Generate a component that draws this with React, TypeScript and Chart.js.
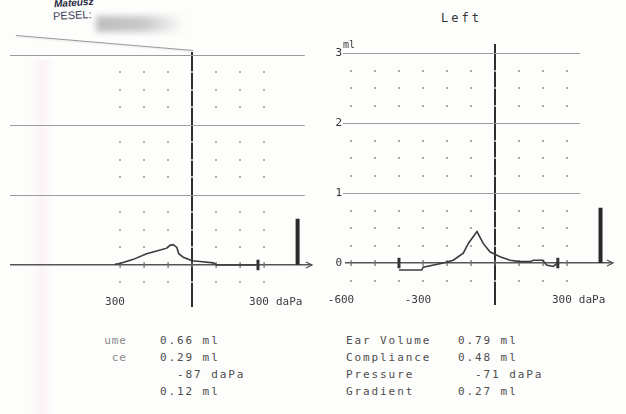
import React, { useEffect, useRef } from "react";
import { Chart, registerables } from "chart.js";

Chart.register(...registerables);

// ---------- data ----------
// Right ear (left panel, partly cut off in the scan)
const RIGHT_EAR_PRESSURE = [-321, -300, -244, -189, -147, -105, -92, -78, -63, -55, -36, 0, 33, 89, 103, 255, 275];
const RIGHT_EAR_COMPLIANCE = [0.01, 0.02, 0.08, 0.16, 0.2, 0.24, 0.28, 0.29, 0.25, 0.16, 0.11, 0.06, 0.05, 0.03, 0.0, 0.0, 0.0];
const RIGHT_EAR_VOLUME = 0.66;
const RIGHT_EAR_RANGE_MARKS = [275];

// Left ear (right panel)
const LEFT_EAR_PRESSURE = [-400, -305, -299, -215, -174, -132, -111, -75, -49, -21, 21, 63, 104, 146, 160, 200, 215, 242, 262];
const LEFT_EAR_COMPLIANCE = [-0.1, -0.1, -0.06, 0.0, 0.04, 0.14, 0.28, 0.45, 0.28, 0.16, 0.09, 0.04, 0.02, 0.02, 0.04, 0.04, -0.03, -0.05, 0.0];
const LEFT_EAR_VOLUME = 0.79;
const LEFT_EAR_RANGE_MARKS = [-400, 262];

const VOLUME_BAR_PRESSURE = 440;
const Y_TICKS = [0, 1, 2, 3];
const RIGHT_PANEL_X_LABELS = [-600, -300, 300];
const LEFT_PANEL_X_LABELS = [-300, 300];
const X_UNIT = "daPa";

const PARAM_LABELS = ["Ear Volume", "Compliance", "Pressure", "Gradient"];
const LEFT_EAR_PARAMS = ["0.79 ml", "0.48 ml", "  -71 daPa", "0.27 ml"];
const RIGHT_EAR_PARAMS = ["0.66 ml", "0.29 ml", "  -87 daPa", "0.12 ml"];
const RIGHT_EAR_LABEL_FRAGMENTS = ["ume", "ce", "", ""];

const MONO = '"DejaVu Sans Mono", "Liberation Mono", monospace';

// ---------- decoration plugin (ml lines, dot grid, axis crosses, arrow, x labels) ----------
const decorPlugin = {
  id: "decor",
  beforeDatasetsDraw(chart: any, _a: any, opts: any) {
    const { ctx, scales } = chart;
    const x = scales.x;
    const y = scales.y;
    const y0 = y.getPixelForValue(0);
    ctx.save();
    // horizontal ml lines
    ctx.strokeStyle = "#9c9c9c";
    ctx.lineWidth = 1;
    Y_TICKS.filter((v) => v > 0).forEach((v) => {
      const py = Math.round(y.getPixelForValue(v)) + 0.5;
      ctx.beginPath();
      ctx.moveTo(chart.chartArea.left + opts.lineStartOffset, py);
      ctx.lineTo(x.getPixelForValue(opts.lineEnd), py);
      ctx.stroke();
    });
    ctx.fillStyle = opts.dotColor;
    for (let v = opts.dotFrom; v <= opts.dotTo; v += 100) {
      const px = Math.round(x.getPixelForValue(v));
      for (let q = -0.25; q < 3; q += 0.25) {
        if (Math.abs(q - Math.round(q)) < 1e-6) continue;
        const py = Math.round(y.getPixelForValue(q));
        ctx.fillRect(px - 1, py - 1, 2, 2);
      }
      // small cross tick on the zero line
      ctx.fillStyle = "#6a6a6a";
      ctx.fillRect(px - 0.5, y0 - 3, 1.2, 6);
      ctx.fillStyle = opts.dotColor;
    }
    // arrow at right end of zero line
    const xr = chart.chartArea.right;
    ctx.strokeStyle = "#555";
    ctx.lineWidth = 1.3;
    ctx.beginPath();
    ctx.moveTo(xr - 6, y0 - 3);
    ctx.lineTo(xr, y0);
    ctx.lineTo(xr - 6, y0 + 3);
    ctx.stroke();
    ctx.restore();
  },
  afterDraw(chart: any, _a: any, opts: any) {
    const { ctx, scales } = chart;
    const x = scales.x;
    const y = scales.y;
    const y0 = y.getPixelForValue(0);
    ctx.save();
    ctx.font = "11px " + MONO;
    ctx.fillStyle = "#3a3a3a";
    ctx.textBaseline = "middle";
    const labels: number[] = opts.xLabels;
    labels.forEach((v: number, i: number) => {
      const px = x.getPixelForValue(v) - 5;
      const txt = opts.hideMinus && v < 0 ? String(-v) : String(v);
      if (i === labels.length - 1) {
        const w = ctx.measureText(txt).width;
        ctx.textAlign = "left";
        ctx.fillText(txt, px - w / 2, y0 + 37);
        ctx.fillText(X_UNIT, px + w / 2 + 7, y0 + 37);
      } else {
        ctx.textAlign = "center";
        ctx.fillText(txt, v === -600 ? px - 5 : px, y0 + 37);
      }
    });
    if (opts.showUnit) {
      ctx.font = "10px " + MONO;
      ctx.textAlign = "left";
      ctx.fillText("ml", chart.chartArea.left - 2, y.getPixelForValue(3) - 8);
    }
    ctx.restore();
  },
};

function makeConfig(p: any): any {
  const curve = {
    data: p.px.map((v: number, i: number) => ({ x: v, y: p.py[i] })),
    borderColor: "#3b3b3b",
    borderWidth: 1.6,
    pointRadius: 0,
    tension: 0,
    fill: false,
  };
  const bar = {
    data: [
      { x: VOLUME_BAR_PRESSURE, y: 0 },
      { x: VOLUME_BAR_PRESSURE, y: p.volume },
    ],
    borderColor: "#2a2a2a",
    borderWidth: 4,
    borderCapStyle: "butt",
    pointRadius: 0,
  };
  const marks = p.marks.map((m: number) => ({
    data: [
      { x: m, y: -0.075 },
      { x: m, y: 0.075 },
    ],
    borderColor: "#333",
    borderWidth: 3,
    borderCapStyle: "butt",
    pointRadius: 0,
  }));
  return {
    type: "line",
    data: { datasets: [curve, bar, ...marks] },
    plugins: [decorPlugin],
    options: {
      animation: false,
      responsive: false,
      events: [],
      layout: { padding: { top: p.padTop, bottom: p.padBottom, left: 0, right: p.padRight } },
      plugins: {
        legend: { display: false },
        tooltip: { enabled: false },
        decor: {
          dotFrom: p.dotFrom,
          dotTo: 300,
          dotColor: p.dotColor,
          xLabels: p.xLabels,
          hideMinus: p.hideMinus,
          showUnit: p.showY,
          lineEnd: p.lineEnd,
          lineStartOffset: p.lineStartOffset,
        },
      },
      scales: {
        x: {
          type: "linear",
          position: "bottom",
          min: p.xMin,
          max: p.xMax,
          afterBuildTicks: (s: any) => {
            s.ticks = [{ value: 0 }];
          },
          ticks: { display: false },
          grid: { color: "#2e2e2e", lineWidth: 2, drawTicks: false },
          border: { display: false },
        },
        y: {
          type: "linear",
          position: "left",
          min: p.yMin,
          max: p.yMax,
          afterBuildTicks: (s: any) => {
            s.ticks = Y_TICKS.map((v) => ({ value: v }));
          },
          afterFit: (s: any) => {
            s.width = p.yWidth;
          },
          ticks: {
            display: p.showY,
            padding: 3,
            color: "#333",
            font: { family: MONO, size: 11 },
            callback: (v: any) => String(v),
          },
          grid: {
            color: (c: any) => (c.tick && c.tick.value === 0 ? "#555" : "rgba(0,0,0,0)"),
            lineWidth: (c: any) => (c.tick && c.tick.value === 0 ? 1.4 : 0),
            drawTicks: false,
          },
          border: { display: false },
        },
      },
    },
  };
}

const textRow = (top: number): React.CSSProperties => ({
  position: "absolute",
  top,
  height: 14,
  lineHeight: "14px",
  fontFamily: MONO,
  fontSize: 11,
  letterSpacing: "1.9px",
  whiteSpace: "pre",
  color: "#4d4d4d",
});

const ROW_TOPS = [334, 351, 368, 385];

export default function App() {
  const leftRef = useRef<HTMLCanvasElement>(null);
  const rightRef = useRef<HTMLCanvasElement>(null);

  useEffect(() => {
    const c1 = new Chart(
      leftRef.current as HTMLCanvasElement,
      makeConfig({
        px: RIGHT_EAR_PRESSURE,
        py: RIGHT_EAR_COMPLIANCE,
        volume: RIGHT_EAR_VOLUME,
        marks: RIGHT_EAR_RANGE_MARKS,
        xMin: -758,
        xMax: 500,
        yMin: -0.6,
        yMax: 3.04,
        yWidth: 10,
        showY: false,
        padTop: 52,
        padBottom: 13,
        padRight: 8,
        dotFrom: -300,
        dotColor: "#b0b0b0",
        xLabels: LEFT_PANEL_X_LABELS,
        hideMinus: true,
        lineEnd: 470,
        lineStartOffset: 0,
      })
    );
    const c2 = new Chart(
      rightRef.current as HTMLCanvasElement,
      makeConfig({
        px: LEFT_EAR_PRESSURE,
        py: LEFT_EAR_COMPLIANCE,
        volume: LEFT_EAR_VOLUME,
        marks: LEFT_EAR_RANGE_MARKS,
        xMin: -625,
        xMax: 492,
        yMin: -0.6,
        yMax: 3.13,
        yWidth: 45,
        showY: true,
        padTop: 44,
        padBottom: 15,
        padRight: 13,
        dotFrom: -600,
        dotColor: "#a8a8a8",
        xLabels: RIGHT_PANEL_X_LABELS,
        hideMinus: false,
        lineEnd: 355,
        lineStartOffset: -2,
      })
    );
    return () => {
      c1.destroy();
      c2.destroy();
    };
  }, []);

  return (
    <div
      style={{
        position: "fixed",
        left: 0,
        top: 0,
        width: 626,
        height: 414,
        background: "#fdfdfc",
        overflow: "hidden",
      }}
    >
      {/* faint pink band from the scan */}
      <div
        style={{
          position: "absolute",
          left: 30,
          top: 60,
          width: 24,
          height: 354,
          background: "linear-gradient(90deg, rgba(250,230,236,0), rgba(249,230,236,0.45), rgba(250,230,236,0))",
        }}
      />
      {/* header */}
      <div
        style={{
          position: "absolute",
          left: 54,
          top: -3,
          fontFamily: '"Liberation Sans", Arial, sans-serif',
          fontSize: 10,
          fontWeight: 700,
          fontStyle: "italic",
          color: "#1f2740",
          transform: "rotate(-4deg)",
        }}
      >
        Mateusz
      </div>
      <div
        style={{
          position: "absolute",
          left: 53,
          top: 9,
          fontFamily: '"Liberation Sans", Arial, sans-serif',
          fontSize: 11,
          color: "#3c4257",
          transform: "rotate(-3deg)",
        }}
      >
        PESEL:
      </div>
      <div
        style={{
          position: "absolute",
          left: 96,
          top: 16,
          width: 88,
          height: 16,
          background: "linear-gradient(90deg, #bdbdbd, #c9c9c9 55%, rgba(215,215,215,0))",
          filter: "blur(3px)",
        }}
      />
      <div
        style={{
          position: "absolute",
          left: 16,
          top: 35,
          width: 178,
          height: 1.3,
          background: "#9a9a9a",
          transform: "rotate(4.8deg)",
          transformOrigin: "0 0",
          boxShadow: "0 1px 2px rgba(0,0,0,0.12)",
        }}
      />
      {/* title */}
      <div
        style={{
          position: "absolute",
          left: 441,
          top: 11,
          fontFamily: MONO,
          fontSize: 12,
          letterSpacing: "3px",
          color: "#333",
          lineHeight: "14px",
        }}
      >
        Left
      </div>

      <canvas ref={leftRef} width={320} height={320} style={{ position: "absolute", left: 0, top: 0 }} />
      <canvas ref={rightRef} width={326} height={320} style={{ position: "absolute", left: 300, top: 0 }} />

      {/* parameter tables */}
      {ROW_TOPS.map((t, i) => (
        <React.Fragment key={i}>
          {RIGHT_EAR_LABEL_FRAGMENTS[i] ? (
            <div style={{ ...textRow(t), left: 80, width: 47, textAlign: "right", color: "#8a8a8a", letterSpacing: "1px" }}>
              {RIGHT_EAR_LABEL_FRAGMENTS[i]}
            </div>
          ) : null}
          <div style={{ ...textRow(t), left: 160 }}>{RIGHT_EAR_PARAMS[i]}</div>
          <div style={{ ...textRow(t), left: 346 }}>{PARAM_LABELS[i]}</div>
          <div style={{ ...textRow(t), left: 458 }}>{LEFT_EAR_PARAMS[i]}</div>
        </React.Fragment>
      ))}
    </div>
  );
}
